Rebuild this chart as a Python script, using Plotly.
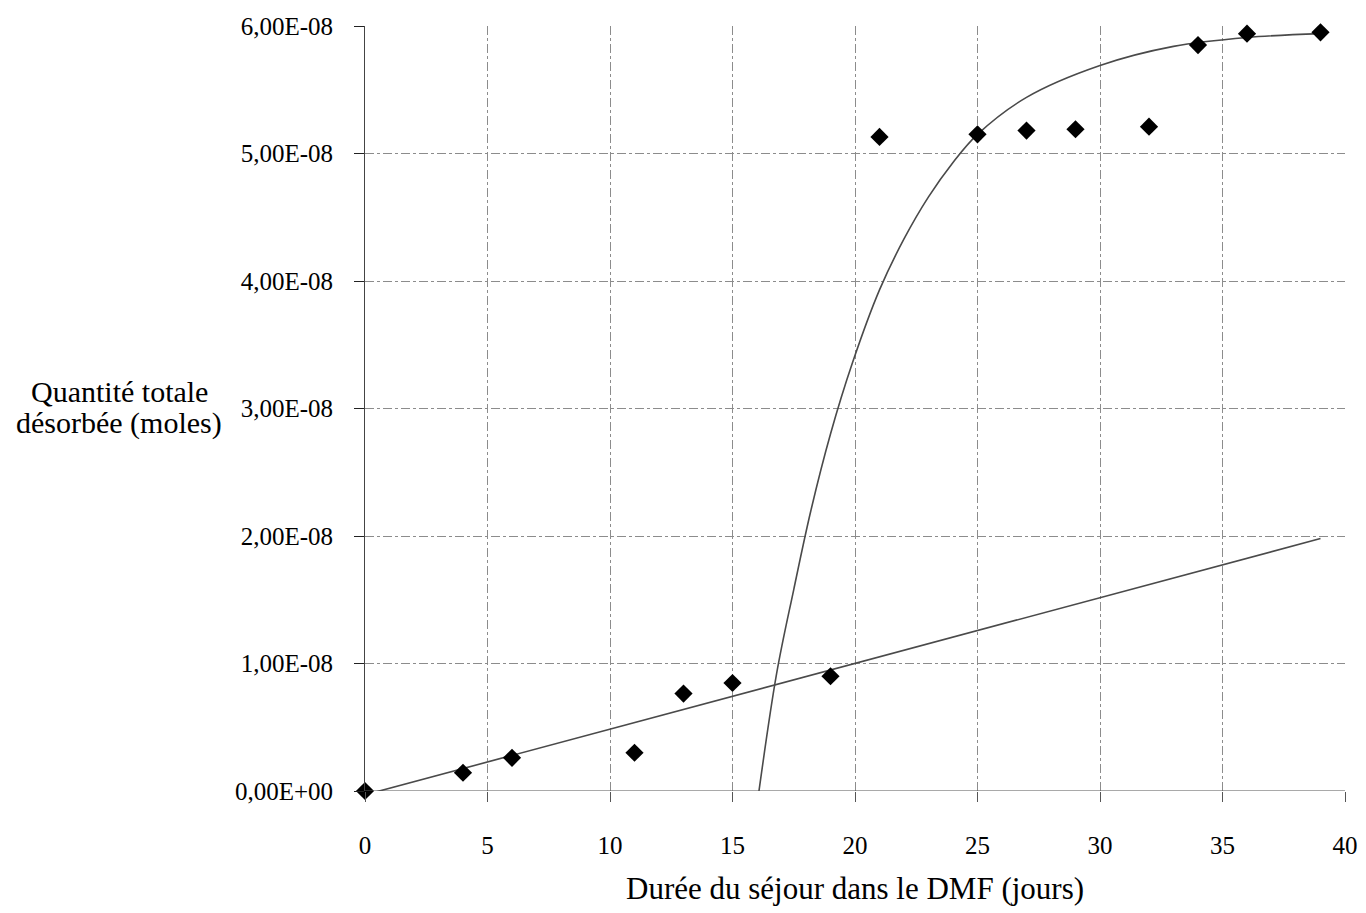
import plotly.graph_objects as go

# measured points
days = [0, 4, 6, 11, 13, 15, 19, 21, 25, 27, 29, 32, 34, 36, 39]
moles = [0.0, 1.43e-9, 2.6e-9, 3.0e-9, 7.64e-9, 8.47e-9, 9.0e-9,
         5.13e-8, 5.15e-8, 5.18e-8, 5.19e-8, 5.21e-8, 5.85e-8, 5.94e-8, 5.95e-8]

# linear trend line
lin_x = [0, 39]
lin_y = [-0.03e-8, 1.98e-8]

# saturation curve
curve_x = [16.03, 16.8, 17.5, 18.2, 19.0, 19.9, 21.0, 22.0, 23.0, 24.0, 25.0,
           27.0, 30.0, 33.0, 36.0, 39.0]
curve_y = [-0.07e-8, 0.92e-8, 1.58e-8, 2.2e-8, 2.8e-8, 3.36e-8, 3.93e-8, 4.33e-8, 4.66e-8,
           4.93e-8, 5.15e-8, 5.44e-8, 5.69e-8, 5.84e-8, 5.91e-8, 5.94e-8]

x_ticks = [0, 5, 10, 15, 20, 25, 30, 35, 40]
y_ticks = [0, 1e-8, 2e-8, 3e-8, 4e-8, 5e-8, 6e-8]
y_tick_labels = ["0,00E+00", "1,00E-08", "2,00E-08", "3,00E-08", "4,00E-08", "5,00E-08", "6,00E-08"]

FONT = "Liberation Serif"
LINE = "#4a4a4a"
GRID = "#8c8c8c"

fig = go.Figure()
fig.add_trace(go.Scatter(x=lin_x, y=lin_y, mode="lines",
                         line=dict(color=LINE, width=1.6), showlegend=False))
fig.add_trace(go.Scatter(x=curve_x, y=curve_y, mode="lines", line_shape="spline",
                         line=dict(color=LINE, width=1.6), showlegend=False))
fig.add_trace(go.Scatter(x=days, y=moles, mode="markers", cliponaxis=False,
                         marker=dict(symbol="diamond", size=14, color="black"),
                         showlegend=False))

fig.update_layout(
    width=1350, height=905,
    margin=dict(l=357, r=13, t=18, b=122),
    paper_bgcolor="white", plot_bgcolor="white",
    font=dict(family=FONT, size=25, color="black"),
    xaxis=dict(range=[0, 40], tickvals=x_ticks, ticks="outside", ticklen=10,
               tickcolor="#555", showgrid=True, gridcolor=GRID, griddash="dashdot",
               gridwidth=1, zeroline=False, showline=False, automargin=False,
               tickfont=dict(family=FONT, size=25), ticklabelstandoff=22),
    yaxis=dict(range=[0, 6e-8], tickvals=y_ticks, ticktext=y_tick_labels,
               ticks="outside", ticklen=10, tickcolor="#222", automargin=False,
               showgrid=True, gridcolor=GRID, griddash="dashdot", gridwidth=1,
               zeroline=False, showline=True, linecolor="#444", linewidth=1,
               tickfont=dict(family=FONT, size=25), ticklabelstandoff=16),
    shapes=[dict(type="line", xref="x", yref="y", x0=0, x1=40, y0=0, y1=0,
                 line=dict(color="#555", width=1.2))],
    annotations=[
        dict(text="Durée du séjour dans le DMF (jours)", xref="x", yref="paper",
             x=20, y=0, xanchor="center", yanchor="middle", yshift=-97, showarrow=False,
             font=dict(family=FONT, size=31)),
        dict(text="Quantité totale", xref="paper", yref="paper",
             x=0, y=0.5, xanchor="center", yanchor="middle", xshift=-246, yshift=17,
             showarrow=False, font=dict(family=FONT, size=30)),
        dict(text="désorbée (moles)", xref="paper", yref="paper",
             x=0, y=0.5, xanchor="center", yanchor="middle", xshift=-246, yshift=-14,
             showarrow=False, font=dict(family=FONT, size=30)),
    ],
)

fig.write_html("out.html")
